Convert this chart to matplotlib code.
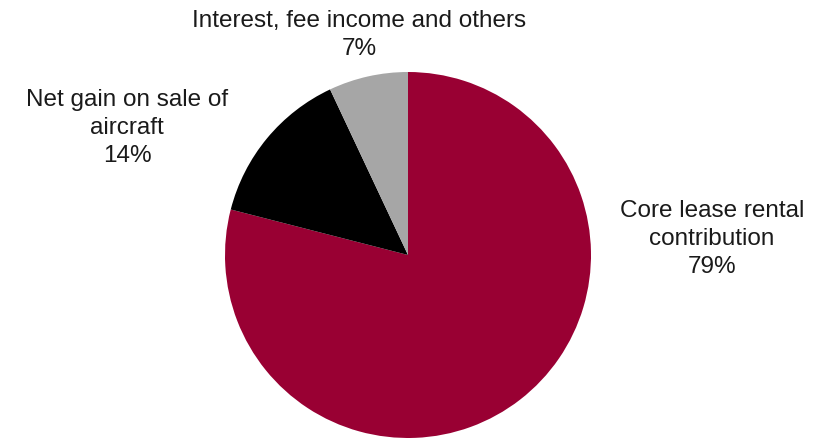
import matplotlib.pyplot as plt

labels = ["Core lease rental\ncontribution", "Net gain on sale of\naircraft", "Interest, fee income and others"]
values = [79, 14, 7]
colors = ["#990033", "#000000", "#A6A6A6"]

plt.rcParams['font.family'] = ['Liberation Sans', 'DejaVu Sans']

fig = plt.figure(figsize=(8.18, 4.39), dpi=100)
ax = fig.add_axes([0, 0, 1, 1])
ax.pie(values, colors=colors, startangle=90, counterclock=False,
       center=(408, 183), radius=183, frame=True)
ax.set_xlim(0, 818)
ax.set_ylim(0, 439)
ax.axis('off')

# label positions in pixel coords (y from bottom)
pos = [(712, 200), (127, 311), (359, 404)]
for lab, v, (x, y) in zip(labels, values, pos):
    ax.text(x, y, f"{lab}\n{v}%", ha='center', va='center', fontsize=17.5,
            linespacing=1.38, color='#1a1a1a')

fig.savefig("out.png", dpi=100)
